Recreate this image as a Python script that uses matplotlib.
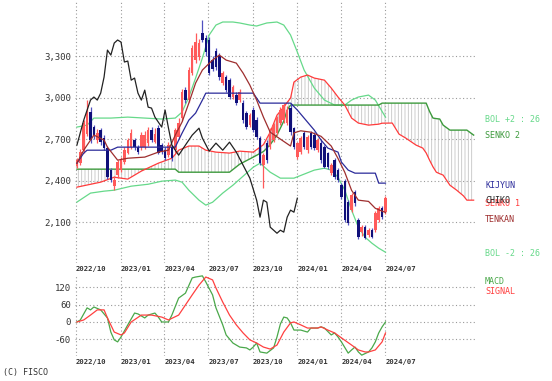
import numpy as np
import pandas as pd
import matplotlib
matplotlib.use('Agg')
import matplotlib.pyplot as plt

START = pd.Timestamp('2022-10-03')   # week index 0

# weekly candles, week 0 .. 91
opens = [2505, 2530, 2620, 2740, 2895, 2790, 2690, 2765, 2710, 2635,
         2475, 2360, 2440, 2475, 2535, 2600, 2640, 2690, 2640, 2640,
         2645, 2670, 2765, 2680, 2780, 2655, 2620, 2585, 2645, 2620,
         2715, 2850, 3055, 2985, 3180, 3270, 3290, 3465, 3430, 3415,
         3270, 3340, 3300, 3105, 3150, 3125, 3005, 3020, 2980, 2960,
         2890, 2800, 2910, 2840, 2705, 2510, 2670, 2640, 2690, 2745,
         2815, 2835, 2815, 2925, 2780, 2570, 2605, 2745, 2620, 2745,
         2730, 2620, 2670, 2640, 2600, 2455, 2550, 2475, 2365, 2400,
         2245, 2185, 2315, 2115, 2028, 2064, 2006, 2042, 2042, 2114,
         2201, 2172]
highs = [2560, 2630, 2840, 2980, 2935, 2800, 2770, 2780, 2730, 2650,
         2490, 2430, 2550, 2570, 2640, 2710, 2770, 2710, 2660, 2750,
         2760, 2790, 2790, 2780, 2800, 2670, 2640, 2680, 2660, 2780,
         2850, 3060, 3080, 3220, 3380, 3470, 3420, 3560, 3450, 3440,
         3300, 3360, 3320, 3190, 3165, 3140, 3090, 3040, 3060, 2980,
         2900, 2890, 2930, 2860, 2720, 2600, 2690, 2780, 2820, 2870,
         2930, 2960, 2940, 2960, 2790, 2680, 2720, 2760, 2730, 2760,
         2750, 2710, 2690, 2660, 2610, 2530, 2565, 2490, 2380, 2410,
         2260, 2310, 2330, 2130, 2080, 2080, 2055, 2055, 2180, 2215,
         2215, 2290]
lows = [2490, 2510, 2600, 2720, 2670, 2700, 2670, 2660, 2620, 2410,
        2390, 2330, 2420, 2460, 2520, 2590, 2630, 2620, 2590, 2620,
        2630, 2650, 2680, 2670, 2590, 2590, 2550, 2570, 2545, 2600,
        2700, 2830, 2960, 2970, 3160, 3250, 3270, 3400, 3300, 3160,
        3190, 3200, 3130, 3090, 3040, 2990, 2990, 2945, 2965, 2820,
        2770, 2790, 2750, 2700, 2510, 2350, 2530, 2630, 2680, 2730,
        2800, 2820, 2800, 2730, 2630, 2555, 2590, 2630, 2600, 2625,
        2620, 2605, 2530, 2490, 2485, 2440, 2410, 2390, 2270, 2100,
        2080, 2170, 2220, 1980, 2000, 1975, 1995, 1985, 2030, 2100,
        2120, 2160]
closes = [2548, 2606, 2820, 2890, 2690, 2730, 2745, 2680, 2635, 2425,
          2405, 2405, 2535, 2550, 2620, 2690, 2745, 2640, 2605, 2730,
          2730, 2765, 2695, 2740, 2600, 2605, 2565, 2655, 2565, 2765,
          2815, 3040, 2985, 3200, 3360, 3400, 3395, 3415, 3330, 3180,
          3210, 3220, 3150, 3175, 3055, 3005, 3075, 2960, 3040, 2840,
          2785, 2875, 2765, 2715, 2525, 2585, 2550, 2765, 2800, 2860,
          2910, 2945, 2910, 2750, 2640, 2670, 2705, 2640, 2715, 2640,
          2635, 2690, 2550, 2500, 2500, 2510, 2425, 2405, 2280, 2115,
          2095, 2295, 2235, 1990, 2064, 1984, 2042, 1991, 2165, 2201,
          2136, 2273]

# Bollinger bands (26, +-2)
bol_up_wk = [0, 3, 5, 10, 15, 20, 25, 29, 31, 33, 35, 37, 39, 41, 43, 46, 48, 51,
             53, 56, 59, 61, 63, 65, 67, 70, 73, 76, 79, 81, 83, 86, 88, 91]
bol_up = [2787, 2801, 2852, 2852, 2859, 2852, 2845, 2852, 2895, 3004, 3141, 3286,
          3452, 3524, 3546, 3546, 3539, 3524, 3517, 3539, 3546, 3524, 3452, 3329,
          3199, 3069, 2982, 2946, 2946, 2982, 3004, 3018, 2982, 2859]
bol_dn_wk = [0, 4, 8, 11, 16, 21, 25, 29, 31, 33, 36, 38, 40, 43, 46, 49, 52, 54,
             57, 60, 64, 67, 70, 73, 75, 77, 79, 81, 83, 85, 87, 89, 91]
bol_dn = [2245, 2310, 2324, 2331, 2360, 2374, 2396, 2404, 2389, 2331, 2259, 2223,
          2244, 2310, 2367, 2432, 2497, 2526, 2461, 2418, 2418, 2447, 2476, 2490,
          2476, 2425, 2331, 2187, 2064, 1991, 1948, 1912, 1883]

# Ichimoku
kijun_wk = [0, 2, 3, 10, 12, 29, 31, 33, 35, 37, 38, 52, 54, 63, 65, 68, 70, 72,
            74, 77, 78, 80, 82, 88, 89, 91]
kijun = [2526, 2599, 2620, 2620, 2642, 2642, 2743, 2837, 2888, 2982, 3032, 3032,
         2960, 2960, 2910, 2823, 2765, 2693, 2635, 2606, 2534, 2476, 2454, 2454,
         2382, 2382]
tenkan_wk = [0, 2, 5, 8, 9, 12, 15, 20, 24, 27, 29, 31, 33, 35, 37, 40, 42, 44,
             47, 49, 51, 53, 55, 57, 60, 63, 64, 66, 69, 72, 75, 77, 79, 81,
             83, 86, 88, 91]
tenkan = [2526, 2620, 2729, 2693, 2642, 2548, 2562, 2570, 2606, 2620, 2729, 2823,
          2960, 3105, 3199, 3271, 3307, 3271, 3249, 3177, 3090, 2982, 2859, 2750,
          2700, 2650, 2745, 2760, 2750, 2720, 2650, 2560, 2460, 2330, 2259, 2250,
          2200, 2170]
chiko_wk = [0, 2, 4, 5, 6, 7, 8, 9, 10, 11, 12, 13, 14, 15, 16, 17, 18, 19, 20,
            21, 22, 23, 25, 26, 27, 28, 30, 32, 34, 36, 37, 39, 41, 43, 45, 47,
            49, 51, 53, 54, 55, 56, 57, 58, 59, 60, 61, 62, 63, 64, 65]
chiko = [2657, 2837, 2982, 3004, 2982, 3032, 3148, 3343, 3307, 3394, 3416, 3401,
         3257, 3264, 3126, 3141, 3032, 2982, 3054, 2931, 2924, 2859, 2787, 2910,
         2779, 2657, 2584, 2657, 2729, 2779, 2707, 2613, 2671, 2620, 2678, 2606,
         2512, 2418, 2259, 2136, 2259, 2244, 2064, 2042, 2020, 2042, 2028, 2136,
         2187, 2172, 2273]
senko_wk = [0, 7, 11, 15, 19, 24, 28, 29, 30, 33, 36, 38, 41, 45, 48, 52, 55, 57,
            59, 61, 62, 63, 64, 66, 68, 70, 73, 75, 77, 79, 81, 83, 86, 89, 90,
            93, 95, 97, 100, 102, 103, 104, 105, 106, 107, 108, 110, 112, 114,
            115, 117]
senko1 = [2353, 2389, 2425, 2411, 2469, 2526, 2562, 2590, 2620, 2650, 2650, 2620,
          2606, 2599, 2613, 2606, 2660, 2750, 2873, 2931, 2965, 2996, 3112, 3148,
          3163, 3141, 3126, 3069, 3004, 2946, 2852, 2816, 2801, 2808, 2815, 2816,
          2736, 2707, 2657, 2635, 2600, 2548, 2500, 2461, 2450, 2440, 2367, 2331,
          2290, 2259, 2259]
senko2 = [2483, 2483, 2483, 2483, 2483, 2483, 2483, 2483, 2461, 2461, 2461, 2461,
          2461, 2461, 2519, 2570, 2610, 2660, 2729, 2830, 2910, 2946, 2946, 2946,
          2946, 2946, 2946, 2946, 2946, 2946, 2946, 2946, 2946, 2946, 2960, 2960,
          2960, 2960, 2960, 2960, 2960, 2900, 2852, 2848, 2845, 2801, 2765, 2765,
          2765, 2765, 2729]

# MACD panel
macd_wk = [0, 1, 3, 4, 5, 7, 9, 10, 11, 12, 13, 15, 17, 18, 20, 21, 23, 24, 25,
           27, 28, 30, 32, 34, 35, 37, 38, 40, 41, 43, 44, 46, 48, 50, 51, 52,
           53, 54, 56, 58, 59, 60, 61, 62, 63, 64, 66, 68, 69, 71, 72, 73, 75,
           76, 77, 78, 80, 81, 82, 83, 84, 86, 87, 88, 89, 90, 91]
macd = [0, 7, 49, 42, 52, 42, 14, -35, -62, -69, -52, -10, 31, 28, 14, 24, 31, 17,
        0, 0, 24, 83, 100, 153, 156, 160, 139, 94, 49, -10, -45, -73, -87, -90,
        -97, -87, -73, -104, -108, -90, -52, -7, 17, 14, -3, -28, -28, -35, -21,
        -21, -17, -21, -45, -38, -52, -69, -108, -97, -87, -104, -115, -104, -90,
        -69, -38, -17, 0]
signal_wk = [0, 2, 4, 6, 8, 9, 11, 13, 14, 16, 19, 22, 25, 27, 30, 32, 34, 36, 38,
             40, 41, 43, 45, 47, 49, 51, 53, 55, 57, 59, 61, 63, 64, 66, 68, 71,
             72, 74, 76, 78, 81, 83, 85, 86, 88, 90, 91]
signal = [0, 7, 24, 42, 42, 14, -35, -45, -38, 0, 24, 24, 17, 7, 24, 59, 94, 128,
          156, 146, 118, 69, 24, -10, -38, -62, -73, -87, -94, -80, -35, -3, 0,
          -10, -21, -21, -17, -28, -38, -55, -80, -97, -104, -104, -97, -69, -38]

quarters = ['2022/10', '2023/01', '2023/04', '2023/07', '2023/10',
            '2024/01', '2024/04', '2024/07']
price_ticks = [2100, 2400, 2700, 3000, 3300]
macd_ticks = [-60, 0, 60, 120]

# colours
C_UP = '#ff5a5a'
C_DN = '#10107a'
C_DN_WICK = '#5050c0'
C_BOL = '#66d98a'
C_SENKO1 = '#ff3b3b'
C_SENKO2 = '#3d9a3d'
C_KIJUN = '#2b2b9a'
C_TENKAN = '#9e2e2e'
C_CHIKO = '#222222'
C_GRID = '#9a9a9a'
MONO = 'DejaVu Sans Mono'

plt.rcParams['hatch.color'] = '#c4c4c4'
plt.rcParams['hatch.linewidth'] = 0.6

fig = plt.figure(figsize=(5.52, 3.81), dpi=100)
ax = fig.add_axes([75 / 552, 118 / 381, 400 / 552, 263 / 381])
ax2 = fig.add_axes([75 / 552, 25 / 381, 400 / 552, 81 / 381])

qpos = [(pd.Timestamp(q.replace('/', '-') + '-01') - START).days / 7 for q in quarters]
xlim = ((pd.Timestamp('2022-09-29') - START).days / 7, 117.4)

def style(a, yt, ylabels):
    for s in a.spines.values():
        s.set_visible(False)
    a.set_xlim(*xlim)
    a.set_xticks(qpos)
    a.set_yticks(yt)
    a.set_yticklabels(ylabels, fontsize=6.5, family=MONO, color='#333333')
    a.tick_params(length=0, pad=3)
    a.grid(True, color=C_GRID, linestyle=(0, (1, 2.2)), linewidth=0.8)
    a.set_axisbelow(True)

# main price panel
style(ax, price_ticks, [f'{v:,}' for v in price_ticks])
ax.set_ylim(1805, 3705)
ax.set_xticklabels(quarters, fontsize=5.2, family=MONO, fontweight='bold', color='#333333')
for t in ax.get_xticklabels():
    t.set_ha('left')
ax.tick_params(axis='x', pad=2)

ax.fill_between(senko_wk, senko1, senko2, facecolor='none', edgecolor='#c4c4c4',
                hatch='|||||', linewidth=0, zorder=1)

ax.plot(bol_up_wk, bol_up, color=C_BOL, lw=0.9, zorder=2)
ax.plot(bol_dn_wk, bol_dn, color=C_BOL, lw=0.9, zorder=2)
ax.plot(senko_wk, senko2, color=C_SENKO2, lw=1.0, zorder=2)
ax.plot(senko_wk, senko1, color=C_SENKO1, lw=0.9, zorder=2)

wk = np.arange(len(closes))
o = np.array(opens); c = np.array(closes)
up = c >= o
ax.vlines(wk[up], np.array(lows)[up], np.array(highs)[up], color=C_UP, lw=0.9, zorder=3)
ax.vlines(wk[~up], np.array(lows)[~up], np.array(highs)[~up], color=C_DN_WICK, lw=0.9, zorder=3)
ax.bar(wk[up], (c - o)[up], bottom=o[up], width=0.75, color=C_UP, linewidth=0, zorder=3)
ax.bar(wk[~up], (o - c)[~up], bottom=c[~up], width=0.75, color=C_DN, linewidth=0, zorder=3)

ax.plot(kijun_wk, kijun, color=C_KIJUN, lw=0.9, zorder=4)
ax.plot(tenkan_wk, tenkan, color=C_TENKAN, lw=0.9, zorder=4)
ax.plot(chiko_wk, chiko, color=C_CHIKO, lw=0.9, zorder=4)

# MACD panel
style(ax2, macd_ticks, [str(v) for v in macd_ticks])
ax2.set_ylim(-118, 163)
ax2.set_xticklabels(quarters, fontsize=5.2, family=MONO, fontweight='bold', color='#333333')
for t in ax2.get_xticklabels():
    t.set_ha('left')
ax2.tick_params(axis='x', pad=2)
ax2.plot(macd_wk, macd, color='#4aa84a', lw=0.9)
ax2.plot(signal_wk, signal, color='#ff4040', lw=0.9)

# right-hand legend texts
labels = [('BOL +2 : 26', 119, C_BOL), ('SENKO 2', 136, C_SENKO2),
          ('KIJYUN', 186, C_KIJUN), ('SENKO 1', 203, C_SENKO1),
          ('CHIKO', 201, C_CHIKO), ('TENKAN', 219, C_TENKAN),
          ('BOL -2 : 26', 254, C_BOL), ('MACD', 281, '#4aa84a'),
          ('SIGNAL', 291, '#ff4040')]
for txt, yp, col in labels:
    fig.text(485 / 552, 1 - yp / 381, txt, color=col, fontsize=6, family=MONO,
             va='center', ha='left')
fig.text(3 / 552, 1 - 373 / 381, '(C) FISCO', color='#333333', fontsize=6,
         family=MONO, va='center', ha='left')

fig.savefig('out.png', dpi=100)
